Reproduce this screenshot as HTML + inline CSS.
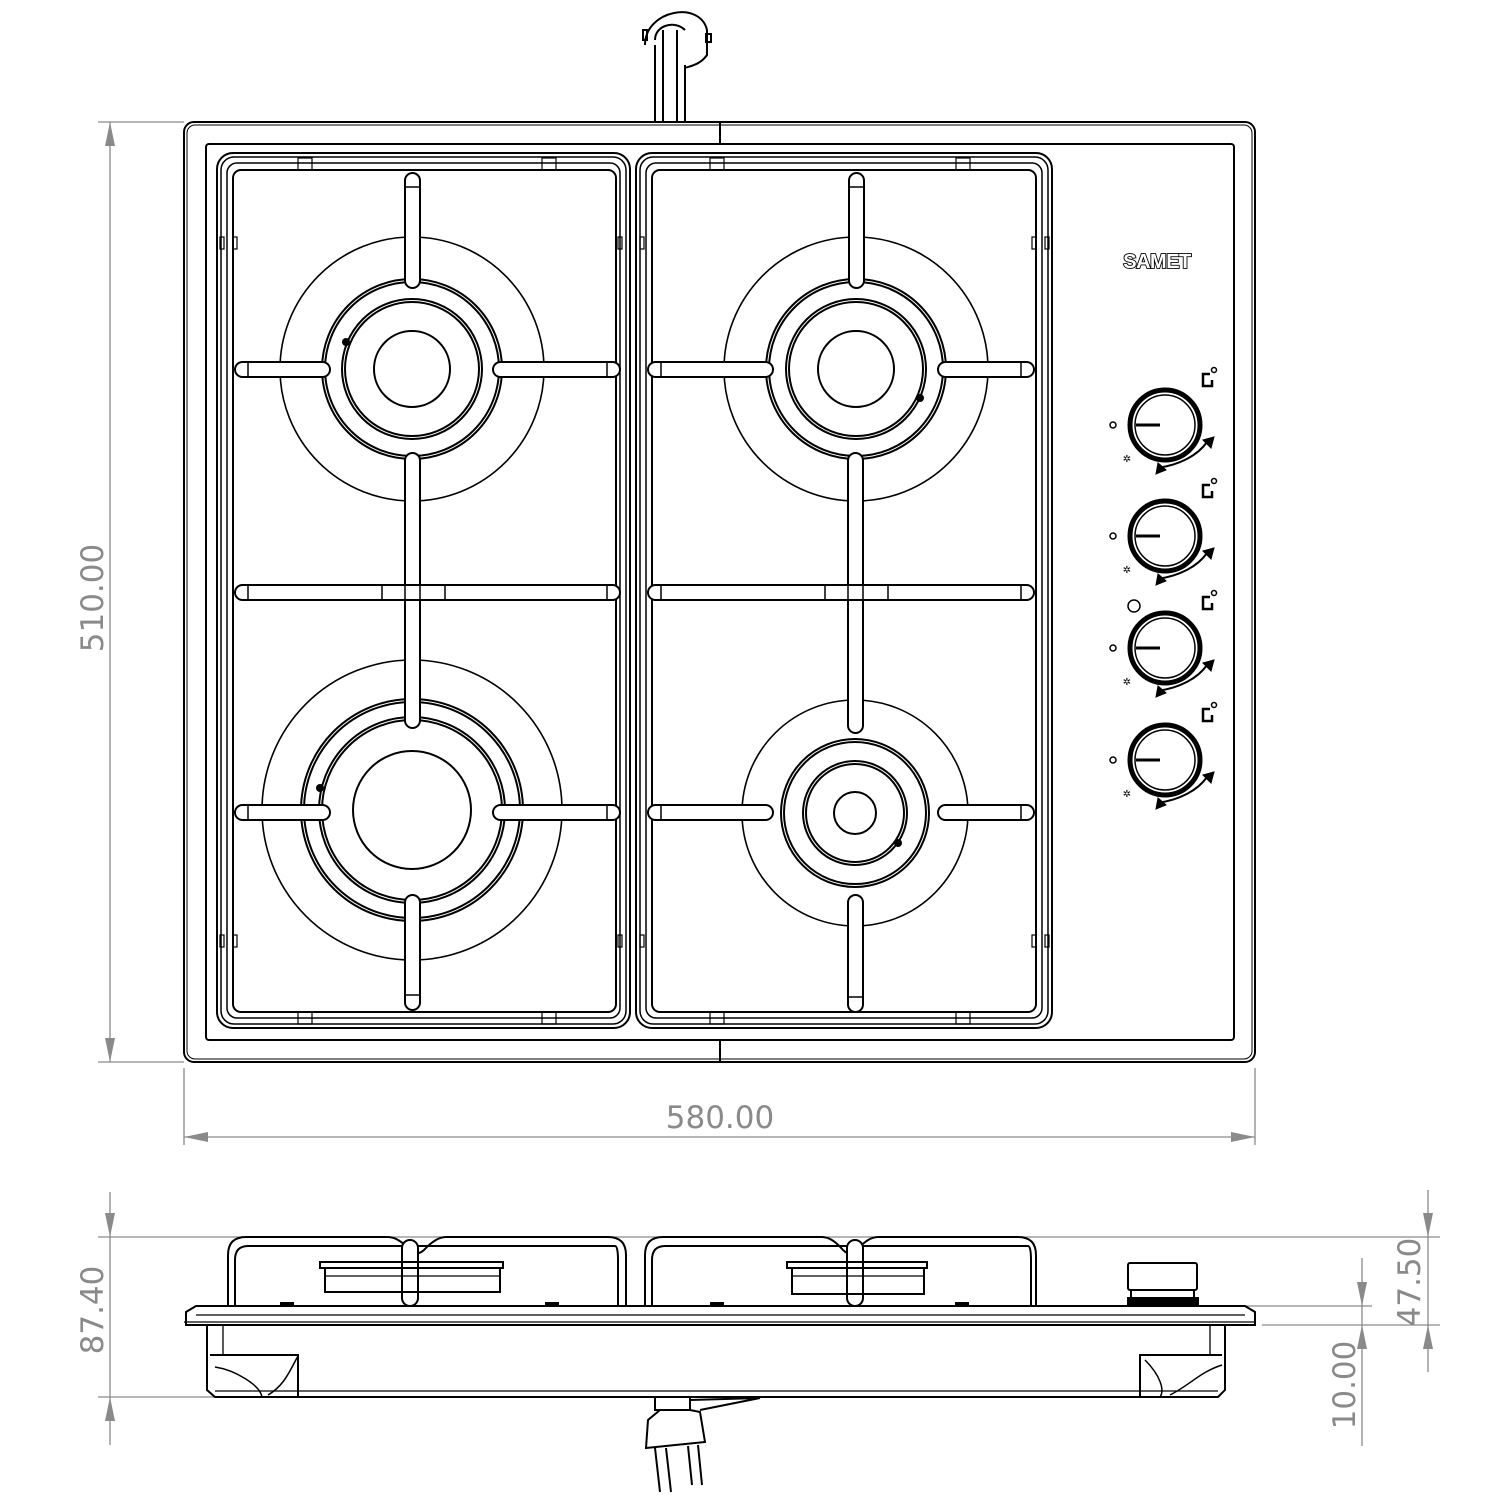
<!DOCTYPE html>
<html><head><style>
html,body{margin:0;padding:0;background:#fff;}
svg{display:block;}
text{font-family:"DejaVu Sans","Liberation Sans",sans-serif;fill:#8a8a8a;}
</style></head><body>
<svg width="1500" height="1500" viewBox="0 0 1500 1500" xmlns="http://www.w3.org/2000/svg">
<g fill="none" stroke="#000" stroke-width="2">
<!-- gas pipe top -->
<path d="M655,122 V45 M663,122 V30 M677,122 V30 M685,122 V65"/>
<path d="M645,45 C645,10 700,0 707,30 L707,55 C700,65 690,66 685,68"/>
<path d="M655,40 C655,25 675,20 685,30"/>
<rect x="643" y="30" width="4" height="10"/><rect x="706" y="34" width="5" height="8"/>
<!-- outer plate -->
<rect x="184" y="122" width="1071" height="940" rx="10"/>
<rect x="187" y="125" width="1065" height="934" rx="8" stroke-width="1"/>
<rect x="206" y="144" width="1028" height="896" rx="3"/>
<line x1="720" y1="122" x2="720" y2="144"/><line x1="720" y1="1040" x2="720" y2="1062"/>
<!-- grates frames -->
<rect x="217" y="153" width="413" height="875" rx="16"/>
<rect x="221" y="157" width="405" height="867" rx="13" stroke-width="1.5"/>
<rect x="227" y="163" width="393" height="855" rx="10" stroke-width="1.5"/>
<rect x="233" y="170" width="383" height="842" rx="8"/>
<rect x="636" y="153" width="416" height="875" rx="16"/>
<rect x="640" y="157" width="408" height="867" rx="13" stroke-width="1.5"/>
<rect x="646" y="163" width="396" height="855" rx="10" stroke-width="1.5"/>
<rect x="652" y="170" width="384" height="842" rx="8"/>
<g stroke-width="1.2">
<rect x="298" y="158" width="14" height="12"/><rect x="542" y="158" width="14" height="12"/>
<rect x="710" y="158" width="14" height="12"/><rect x="956" y="158" width="14" height="12"/>
<rect x="298" y="1012" width="14" height="12"/><rect x="542" y="1012" width="14" height="12"/>
<rect x="710" y="1012" width="14" height="12"/><rect x="956" y="1012" width="14" height="12"/>
<rect x="220" y="237" width="4" height="12"/><rect x="233" y="237" width="4" height="12"/>
<rect x="618" y="237" width="4" height="12"/><rect x="640" y="237" width="4" height="12"/>
<rect x="1032" y="237" width="4" height="12"/><rect x="1045" y="237" width="4" height="12"/>
<rect x="220" y="935" width="4" height="12"/><rect x="233" y="935" width="4" height="12"/>
<rect x="618" y="935" width="4" height="12"/><rect x="640" y="935" width="4" height="12"/>
<rect x="1032" y="935" width="4" height="12"/><rect x="1045" y="935" width="4" height="12"/>
</g>
<!-- burners -->
<circle cx="412" cy="369" r="132" stroke-width="1.6"/><circle cx="412" cy="369" r="90"/><circle cx="412" cy="369" r="87"/>
<circle cx="412" cy="369" r="70"/><circle cx="412" cy="369" r="67"/><circle cx="412" cy="369" r="38"/>
<circle cx="856" cy="369" r="132" stroke-width="1.6"/><circle cx="856" cy="369" r="90"/><circle cx="856" cy="369" r="87"/>
<circle cx="856" cy="369" r="70"/><circle cx="856" cy="369" r="67"/><circle cx="856" cy="369" r="38"/>
<circle cx="412" cy="810" r="150" stroke-width="1.6"/><circle cx="412" cy="810" r="111"/><circle cx="412" cy="810" r="108"/>
<circle cx="412" cy="810" r="93"/><circle cx="412" cy="810" r="90"/><circle cx="412" cy="810" r="59"/>
<circle cx="855" cy="813" r="113" stroke-width="1.6"/><circle cx="855" cy="813" r="74"/><circle cx="855" cy="813" r="71"/>
<circle cx="855" cy="813" r="52"/><circle cx="855" cy="813" r="49"/><circle cx="855" cy="813" r="21"/>
</g>
<g fill="#000"><circle cx="346" cy="342" r="4"/><circle cx="920" cy="398" r="4"/><circle cx="320" cy="788" r="4"/><circle cx="898" cy="843" r="4"/></g>
<!-- grate fingers -->
<g fill="#fff" stroke="#000" stroke-width="2">
<rect x="405" y="173" width="15" height="115" rx="7.5"/>
<rect x="405" y="453" width="15" height="275" rx="7.5"/>
<rect x="405" y="895" width="15" height="115" rx="7.5"/>
<rect x="849" y="173" width="15" height="115" rx="7.5"/>
<rect x="848" y="453" width="15" height="280" rx="7.5"/>
<rect x="848" y="895" width="15" height="117" rx="7.5"/>
<rect x="235" y="362" width="95" height="15" rx="7.5"/>
<rect x="493" y="362" width="127" height="15" rx="7.5"/>
<rect x="648" y="362" width="125" height="15" rx="7.5"/>
<rect x="938" y="362" width="96" height="15" rx="7.5"/>
<rect x="235" y="585" width="385" height="15" rx="7.5"/>
<rect x="648" y="585" width="386" height="15" rx="7.5"/>
<rect x="235" y="805" width="95" height="15" rx="7.5"/>
<rect x="493" y="805" width="127" height="15" rx="7.5"/>
<rect x="648" y="805" width="125" height="15" rx="7.5"/>
<rect x="938" y="805" width="96" height="15" rx="7.5"/>
</g>
<g stroke="#000" stroke-width="1.5" fill="none">
<path d="M405,585 V600 M420,585 V600 M848,585 V600 M863,585 V600"/>
<path d="M382,585 V600 M445,585 V600 M825,585 V600 M888,585 V600 M248,585V600 M607,585V600 M661,585V600 M1021,585V600"/>
<path d="M248,362V377 M607,362V377 M661,362V377 M1021,362V377 M248,805V820 M607,805V820 M661,805V820 M1021,805V820"/>
<path d="M405,187H420 M849,187H864 M405,995H420 M848,997H863"/>
</g>
<!-- logo -->
<text x="1157" y="268" text-anchor="middle" style="font-family:'Liberation Sans',sans-serif;font-weight:bold;font-size:20px;letter-spacing:-0.5px;fill:#fff;stroke:#000;stroke-width:1.8;paint-order:stroke">SAMET</text>
<!-- knobs -->
<g id="k" fill="none" stroke="#000">
<circle cx="1165" cy="425" r="35" stroke-width="5"/>
<circle cx="1165" cy="425" r="30" stroke-width="1.5"/>
<line x1="1136" y1="425" x2="1160" y2="425" stroke-width="3"/>
<circle cx="1113" cy="425" r="3" stroke-width="1.5"/>
<path d="M1157,468 C1180,465 1198,455 1207,442" stroke-width="2"/>
<path d="M1203,440 L1214,437 L1211,448 Z" fill="#000"/>
<path d="M1158,463 L1156,474 L1166,470 Z" fill="#000"/>
<text x="1127" y="462" text-anchor="middle" style="font-size:10px;fill:#000;stroke:none">✲</text>
<path d="M1210,374 H1203 V386 H1212 V380" stroke-width="2.5"/>
<circle cx="1214" cy="370" r="2.5" stroke-width="1.5"/>
</g>
<use href="#k" y="111"/><use href="#k" y="223"/><use href="#k" y="335"/>
<circle cx="1134" cy="606" r="6" fill="none" stroke="#000" stroke-width="1.5"/>

<!-- dimension lines -->
<g stroke="#8a8a8a" stroke-width="1.3" fill="none">
<line x1="98" y1="122" x2="184" y2="122"/><line x1="98" y1="1062" x2="184" y2="1062"/>
<line x1="110" y1="122" x2="110" y2="1062"/>
<line x1="184" y1="1068" x2="184" y2="1145"/><line x1="1255" y1="1068" x2="1255" y2="1145"/>
<line x1="184" y1="1137" x2="1255" y2="1137"/>
<line x1="98" y1="1237" x2="1440" y2="1237"/>
<line x1="98" y1="1397" x2="215" y2="1397"/>
<line x1="110" y1="1192" x2="110" y2="1445"/>
<line x1="1240" y1="1306" x2="1372" y2="1306"/>
<line x1="1262" y1="1325" x2="1440" y2="1325"/>
<line x1="1428" y1="1190" x2="1428" y2="1372"/>
<line x1="1362" y1="1258" x2="1362" y2="1446"/>
</g>
<g fill="#8a8a8a">
<path d="M105,146 L115,146 L110,122 Z"/><path d="M105,1038 L115,1038 L110,1062 Z"/>
<path d="M208,1132 L208,1142 L184,1137 Z"/><path d="M1231,1132 L1231,1142 L1255,1137 Z"/>
<path d="M105,1213 L115,1213 L110,1237 Z"/><path d="M105,1421 L115,1421 L110,1397 Z"/>
<path d="M1423,1213 L1433,1213 L1428,1237 Z"/><path d="M1423,1349 L1433,1349 L1428,1325 Z"/>
<path d="M1357,1282 L1367,1282 L1362,1306 Z"/><path d="M1357,1349 L1367,1349 L1362,1325 Z"/>
</g>
<g style="font-size:31px">
<text x="720" y="1128" text-anchor="middle">580.00</text>
<text transform="translate(103,598) rotate(-90)" text-anchor="middle">510.00</text>
<text transform="translate(103,1310) rotate(-90)" text-anchor="middle">87.40</text>
<text transform="translate(1420,1282) rotate(-90)" text-anchor="middle">47.50</text>
<text transform="translate(1355,1385) rotate(-90)" text-anchor="middle">10.00</text>
</g>

<!-- side view -->
<g fill="none" stroke="#000" stroke-width="2">
<path d="M186,1325 V1312 L196,1306 H1245 L1255,1312 V1325 Z"/>
<line x1="196" y1="1315" x2="1245" y2="1315" stroke-width="1.3"/>
<line x1="184" y1="1322" x2="1255" y2="1322" stroke-width="1.3"/>
<path d="M207,1325 V1390 L215,1397 H1218 L1225,1390 V1325"/>
<line x1="215" y1="1391" x2="1218" y2="1391" stroke-width="1.3"/>
<line x1="223" y1="1325" x2="223" y2="1355" stroke-width="1.3"/>
<path d="M210,1355 H283 L298,1355 V1397"/>
<path d="M215,1367 C235,1370 260,1385 262,1397 M298,1356 C290,1370 285,1385 268,1395" stroke-width="1.5"/>
<path d="M1140,1397 V1355 H1222"/>
<line x1="1210" y1="1325" x2="1210" y2="1355" stroke-width="1.3"/>
<path d="M1145,1360 C1160,1375 1165,1390 1160,1397 M1222,1365 C1200,1372 1190,1385 1170,1395" stroke-width="1.5"/>
<path d="M228,1306 V1255 Q228,1237 246,1237 H388 Q398,1237 410,1250 Q416,1257 424,1250 Q436,1237 446,1237 H608 Q626,1237 626,1255 V1306"/>
<path d="M235,1306 V1260 Q235,1246 248,1246 H615 Q618,1246 618,1260 V1306"/>
<rect x="402" y="1240" width="16" height="66" rx="8" fill="#fff"/>
<path d="M645,1306 V1255 Q645,1237 663,1237 H822 Q832,1237 843,1250 Q850,1257 857,1250 Q868,1237 878,1237 H1018 Q1036,1237 1036,1255 V1306"/>
<path d="M652,1306 V1260 Q652,1246 665,1246 H1028 Q1031,1246 1031,1260 V1306"/>
<rect x="847" y="1240" width="16" height="66" rx="8" fill="#fff"/>
<rect x="320" y="1262" width="183" height="6"/>
<rect x="325" y="1268" width="175" height="24"/>
<path d="M325,1276 H500" stroke-width="1.3"/>
<rect x="787" y="1262" width="140" height="6"/>
<rect x="792" y="1268" width="132" height="26"/>
<path d="M792,1276 H924" stroke-width="1.3"/>
<rect x="1128" y="1263" width="69" height="27" rx="2"/>
<rect x="1131" y="1290" width="63" height="8"/>
<rect x="1128" y="1298" width="70" height="8" fill="#000"/>
<path d="M655,1397 V1410 H690 V1397 M660,1410 L648,1420 L646,1448 L705,1442 L700,1412 L690,1410"/>
<path d="M655,1448 L660,1492 M666,1448 L671,1492 M688,1446 L692,1485 M698,1445 L702,1485"/>
<path d="M690,1400 L760,1398 L700,1410"/>
</g>
<g fill="#000">
<rect x="280" y="1302" width="14" height="4"/><rect x="545" y="1302" width="14" height="4"/><rect x="710" y="1302" width="14" height="4"/><rect x="955" y="1302" width="14" height="4"/>
</g>
</svg>
</body></html>
